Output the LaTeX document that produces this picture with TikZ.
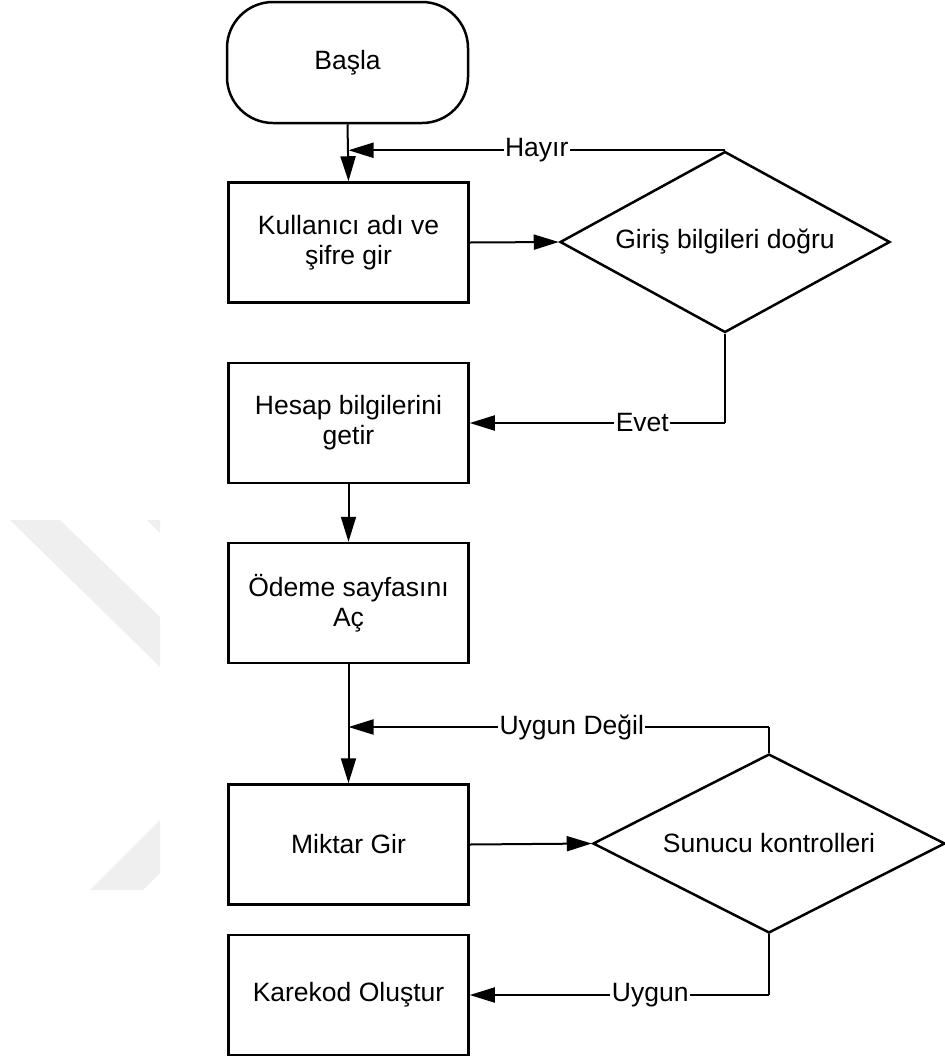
\documentclass[tikz,border=0pt]{standalone}
\usepackage{fontspec}
\setmainfont{Liberation Sans}
\usetikzlibrary{arrows.meta,shapes.geometric}
\definecolor{wmgray}{RGB}{239,239,239}
\begin{document}
\begin{tikzpicture}[x=1pt,y=-1pt,
  txt/.style={font=\fontsize{26.5pt}{30pt}\selectfont},
  startbox/.style={txt,draw,line width=2.5pt,rounded corners=46pt,
    minimum width=241pt,minimum height=121pt,inner sep=0pt},
  proc/.style={txt,draw,line width=2.5pt,minimum width=240pt,
    minimum height=120pt,align=center,inner sep=0pt},
  decision/.style={txt,draw,diamond,shape aspect=1.85,line width=2.5pt,inner sep=0pt},
  conn/.style={line width=2pt,-{Triangle[length=25pt,width=15pt]}},
  lbl/.style={txt,fill=white,inner sep=1.5pt}
]
\useasboundingbox (0,0) rectangle (945,1061);

% faint background mark on the left
\fill[wmgray] (10,520) -- (60,520) -- (160,617) -- (160,667) -- cycle;
\fill[wmgray] (147,520) -- (160,520) -- (160,533) -- cycle;
\fill[wmgray] (90,890) -- (143,890) -- (160,873) -- (160,820) -- cycle;

% nodes
\node[startbox] (start) at (347.5,62.5) {Başla};
\node[proc] (login) at (348.5,242.5) {Kullanıcı adı ve\\şifre gir};
\node[decision,minimum width=330pt,minimum height=181pt] (check) at (725,242) {Giriş bilgileri doğru};
\node[proc] (account) at (348.5,423) {Hesap bilgilerini\\getir};
\node[proc] (payment) at (348.5,603) {Ödeme sayfasını\\Aç};
\node[proc] (amount) at (348.5,844.5) {Miktar Gir};
\node[decision,minimum width=352pt,minimum height=179pt] (server) at (769,843.5) {Sunucu kontrolleri};
\node[proc] (qr) at (348.5,995) {Karekod Oluştur};

% helper points for the return loops
\coordinate (noend) at (check.north -| login.north);
\coordinate (ubend) at (769,727);
\coordinate (ubend2) at (ubend -| amount.north);

% connectors
\draw[conn] (start.south) -- (login.north);
\draw[conn] (login.east) -- (check.west);
\draw[conn] (check.north) -- node[lbl,pos=0.5]{Hayır} (noend);
\draw[line width=2pt] (check.south) -- (check.south |- account.east);
\draw[conn] (check.south |- account.east) -- node[lbl,pos=0.324]{Evet} (account.east);
\draw[conn] (account.south) -- (payment.north);
\draw[conn] (payment.south) -- (amount.north);
\draw[line width=2pt] (server.north) -- (ubend);
\draw[conn] (ubend) -- node[lbl,pos=0.469]{Uygun Değil} (ubend2);
\draw[conn] (amount.east) -- (server.west);
\draw[line width=2pt] (server.south) -- (server.south |- qr.east);
\draw[conn] (server.south |- qr.east) -- node[lbl,pos=0.397]{Uygun} (qr.east);
\end{tikzpicture}
\end{document}
